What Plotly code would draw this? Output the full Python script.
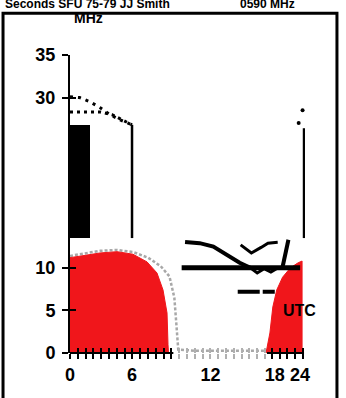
import plotly.graph_objects as go

FONT = "Liberation Sans, Arial, sans-serif"

# ---------------- data (x in hours UTC, y in MHz) ----------------
x_label_pos = [0, 6.36, 14.4, 21.0, 23.6]
x_labels = ["0", "6", "12", "18", "24"]
y_tick_vals = [0, 5, 10, 30, 35]
y_tick_text = ["0", "5", "10", "30", "35"]

# red filled area, morning/day
red_left_x = [0, 0, 1.74, 3.08, 4.82, 6.46, 7.9, 8.92, 9.54, 9.95, 10.05, 10.1]
red_left_y = [0, 11.2, 11.5, 11.75, 11.9, 11.6, 10.7, 9.4, 7.4, 4.7, 1.0, 0]
# red filled area, evening
red_right_x = [20.1, 20.5, 20.8, 21.2, 21.8, 22.6, 23.4, 23.8, 23.8]
red_right_y = [0, 2.35, 5.4, 7.4, 8.9, 10.0, 10.6, 10.8, 0]
# grey dotted outline
grey_x = [0, 1.7, 3.1, 4.8, 6.5, 8.0, 9.3, 10.2, 10.7, 10.9, 11.1, 13, 15, 17, 19, 20.3]
grey_y = [11.4, 11.75, 12.0, 12.1, 11.85, 11.2, 10.2, 9.0, 6.5, 3.5, 0.4, 0.25, 0.25, 0.25, 0.25, 0.25]

# black bar
bar_x = [1.0]
bar_width = [2.0]
bar_low = [13.5]
bar_high = [26.8]

# thin vertical lines
line_a_x = [6.36, 6.36]
line_a_y = [13.5, 26.8]
line_b_x = [24.0, 24.0]
line_b_y = [13.5, 26.4]

# dotted curves upper left
dot_up_x = [0, 1.0, 2.05, 3.1, 4.1, 5.1, 6.36]
dot_up_y = [30.1, 30.0, 29.5, 28.8, 28.0, 27.4, 26.8]
dot_lo_x = [0, 1.5, 3.1, 4.3, 5.1, 6.36]
dot_lo_y = [28.3, 28.3, 28.3, 28.0, 27.5, 26.8]
dot_r_x = [23.45, 23.85, 24.3]
dot_r_y = [27.0, 28.5, 28.2]

# black strokes in the evening part
thick_x = [11.45, 23.6]
thick_y = [10.0, 10.0]
desc_x = [11.8, 13.3, 14.7, 16.1, 17.4, 18.5]
desc_y = [13.05, 12.9, 12.5, 11.5, 10.6, 10.0]
wig_x = [18.5, 19.2, 19.9, 20.6, 21.3]
wig_y = [10.0, 9.4, 9.9, 9.5, 10.0]
vee_x = [17.5, 18.6, 19.6, 20.3, 21.3]
vee_y = [12.7, 11.75, 12.4, 12.9, 13.0]
ell_x = [22.4, 21.8]
ell_y = [13.3, 10.1]
dash_x = [17.2, 21.0]
dash_y = [7.2, 7.2]

# tick positions
ticks_black = [i * 0.8 for i in range(14)] + [20.7, 21.5, 22.3, 23.1, 23.9]
ticks_grey = [i * 0.8 for i in range(14, 26)]

X_MAX = 24.1
RED = "#f0161b"

fig = go.Figure()

def line(x, y, width, color="black", dash="solid"):
    fig.add_trace(go.Scatter(x=x, y=y, mode="lines", hoverinfo="skip",
                             line=dict(color=color, width=width, dash=dash)))

line(grey_x, grey_y, 2.5, "#a8a8a8", "3px,2px")
fig.add_trace(go.Scatter(x=red_left_x, y=red_left_y, fill="toself", fillcolor=RED,
                         mode="lines", line=dict(color=RED, width=1), hoverinfo="skip"))
fig.add_trace(go.Scatter(x=red_right_x, y=red_right_y, fill="toself", fillcolor=RED,
                         mode="lines", line=dict(color=RED, width=1), hoverinfo="skip"))
fig.add_trace(go.Bar(x=bar_x, y=[h - l for h, l in zip(bar_high, bar_low)], base=bar_low,
                     width=bar_width, marker=dict(color="black", line=dict(width=0)),
                     hoverinfo="skip"))
line(line_a_x, line_a_y, 2.5)
line(line_b_x, line_b_y, 2.5)
line(dot_up_x, dot_up_y, 3, dash="3px,5px")
line(dot_lo_x, dot_lo_y, 3, dash="3px,4px")
fig.add_trace(go.Scatter(x=dot_r_x, y=dot_r_y, mode="markers", cliponaxis=False,
                         marker=dict(color="black", size=4), hoverinfo="skip"))
line(thick_x, thick_y, 5)
line(desc_x, desc_y, 4)
line(wig_x, wig_y, 3)
line(vee_x, vee_y, 3)
line(ell_x, ell_y, 4)
line(dash_x, dash_y, 4, dash="22px,3px")

# dummy traces for tick overlay axes
for ax in ["x2", "x3", "x4", "x5"]:
    fig.add_trace(go.Scatter(x=[None], y=[None], xaxis=ax, yaxis="y", mode="lines",
                             hoverinfo="skip"))
fig.add_trace(go.Scatter(x=[None], y=[None], xaxis="x", yaxis="y2", mode="lines",
                         hoverinfo="skip"))

def tick_axis(vals, side, color):
    return dict(overlaying="x", anchor="y", range=[0, X_MAX], tickmode="array",
                tickvals=vals, ticks=side, ticklen=5, tickwidth=2, tickcolor=color,
                showticklabels=False, showgrid=False, zeroline=False, showline=False)

tickfont = dict(family=FONT, size=18, color="black", weight="bold")

fig.update_layout(
    width=346, height=398,
    margin=dict(l=70, r=41, t=55, b=45),
    paper_bgcolor="white", plot_bgcolor="white",
    showlegend=False, bargap=0,
    xaxis=dict(range=[0, X_MAX], tickmode="array", tickvals=x_label_pos, ticktext=x_labels,
               ticks="outside", ticklen=5, tickcolor="rgba(0,0,0,0)", showline=False,
               showgrid=False, zeroline=False, tickfont=tickfont),
    xaxis2=tick_axis(ticks_black, "outside", "black"),
    xaxis3=tick_axis(ticks_black, "inside", "black"),
    xaxis4=tick_axis(ticks_grey, "outside", "#b0b0b0"),
    xaxis5=tick_axis(ticks_grey, "inside", "#b0b0b0"),
    yaxis=dict(range=[0, 35], tickmode="array", tickvals=y_tick_vals, ticktext=y_tick_text,
               ticks="outside", ticklen=6, tickwidth=2, tickcolor="black",
               showline=True, linewidth=2, linecolor="black", showgrid=False,
               zeroline=False, tickfont=tickfont, ticklabelstandoff=3),
    yaxis2=dict(overlaying="y", anchor="x", range=[0, 35], tickmode="array",
                tickvals=y_tick_vals, ticks="inside", ticklen=6, tickwidth=2,
                tickcolor="black", showticklabels=False, showgrid=False,
                zeroline=False, showline=False),
    shapes=[
        dict(type="rect", xref="paper", yref="paper", x0=-0.285, x1=1.136, y0=-0.17,
             y1=1.14, line=dict(color="black", width=3), layer="above"),
        dict(type="line", xref="paper", yref="paper", x0=0, x1=10.6 / X_MAX, y0=0, y1=0,
             line=dict(color="black", width=2)),
        dict(type="line", xref="paper", yref="paper", x0=20.2 / X_MAX, x1=24.0 / X_MAX,
             y0=0, y1=0, line=dict(color="black", width=2)),
    ],
    annotations=[
        dict(text="MHz", xref="paper", yref="paper", x=0.0766, y=1.1225,
             xanchor="center", yanchor="middle", showarrow=False,
             font=dict(family=FONT, size=14, color="black", weight="bold")),
        dict(text="UTC", xref="x", yref="y", x=23.5, y=5.05,
             xanchor="center", yanchor="middle", showarrow=False,
             font=dict(family=FONT, size=16, color="black", weight="bold")),
        dict(text="Seconds SFU 75-79 JJ Smith", xref="paper", yref="paper", x=-0.285,
             y=1.1705, xanchor="left", yanchor="middle", showarrow=False,
             font=dict(family=FONT, size=12, color="black", weight="bold")),
        dict(text="0590 MHz", xref="paper", yref="paper", x=0.715, y=1.1705,
             xanchor="left", yanchor="middle", showarrow=False,
             font=dict(family=FONT, size=12, color="black", weight="bold")),
    ],
)

fig.write_html("out.html", post_script="document.body.style.margin='0';",
               config={"displayModeBar": False})
